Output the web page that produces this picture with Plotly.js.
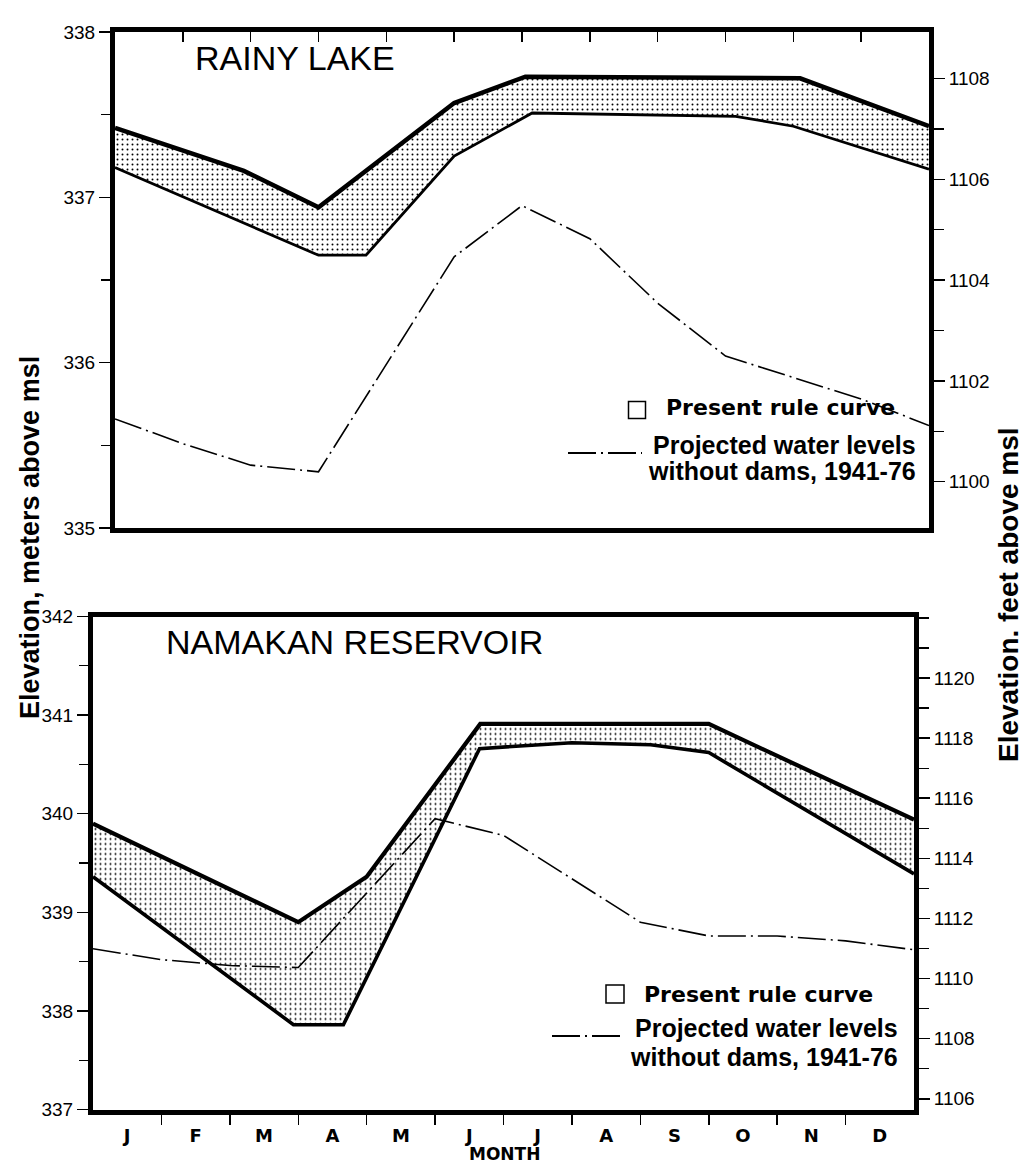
<!DOCTYPE html>
<html><head><meta charset="utf-8">
<script src="https://cdn.plot.ly/plotly-3.0.1.min.js"></script>
<style>html,body{margin:0;padding:0;background:#fff}#chart{width:1031px;height:1165px}</style>
</head><body><div id="chart"></div>
<script>
// ---------- data (month position 0..12 = Jan 1 .. Dec 31; elevations in meters) ----------
const monthLabels = ['J','F','M','A','M','J','J','A','S','O','N','D'];

const rainyUpperX = [0, 1.9, 3, 5, 6.05, 10.1, 12];
const rainyUpperY = [337.42, 337.16, 336.94, 337.57, 337.73, 337.72, 337.43];
const rainyLowerX = [0, 3, 3.7, 5, 6.15, 9.15, 10, 12];
const rainyLowerY = [337.18, 336.65, 336.65, 337.25, 337.51, 337.49, 337.43, 337.17];
const rainyProjX  = [0, 1, 2, 3, 5, 6, 7, 8, 9, 10, 11, 12];
const rainyProjY  = [335.66, 335.51, 335.38, 335.34, 336.64, 336.95, 336.75, 336.36, 336.04, 335.91, 335.78, 335.62];

const namUpperX = [0, 3, 4, 5.66, 9, 12];
const namUpperY = [339.90, 338.90, 339.36, 340.91, 340.91, 339.94];
const namLowerX = [0, 2.93, 3.66, 5.65, 7, 8.15, 9, 12];
const namLowerY = [339.36, 337.86, 337.86, 340.66, 340.72, 340.70, 340.62, 339.39];
const namProjX  = [0, 1, 2, 3, 5, 6, 8, 9, 10, 11, 12];
const namProjY  = [338.63, 338.52, 338.46, 338.44, 339.95, 339.78, 338.90, 338.76, 338.76, 338.71, 338.62];

const rainyMeterTicks = [335, 336, 337, 338];
const rainyFeetTicks  = [1100, 1102, 1104, 1106, 1108];
const namMeterTicks   = [337, 338, 339, 340, 341, 342];
const namFeetTicks    = [1106, 1108, 1110, 1112, 1114, 1116, 1118, 1120];

const titles = {rainy: 'RAINY LAKE', nam: 'NAMAKAN RESERVOIR'};
const legendBand = 'Present rule curve';
const legendProj1 = 'Projected water levels';
const legendProj2 = 'without dams, 1941-76';

// ---------- helpers ----------
const FT = 3.28084;
const W = 1031, H = 1165;
const px = x => x / W, py = y => 1 - y / H;
const range = (a, b, s) => { const r = []; for (let v = a; v <= b + 1e-9; v += s) r.push(+v.toFixed(4)); return r; };

const TOP = {x0: 115, x1: 929, y0: 32, y1: 528};
const BOT = {x0: 93, x1: 914, y0: 616.5, y1: 1109.5};

const BLACK = '#000';
const dashDot = '28px,5px,2px,5px';
const pattern = {shape: '.', fgcolor: '#000', bgcolor: '#fff', size: 5, solidity: 0.12, fillmode: 'replace'};

function bandTraces(lx, ly, ux, uy, xa, ya, lwLow, lwUp) {
  return [
    {x: lx, y: ly, xaxis: xa, yaxis: ya, type: 'scatter', mode: 'lines',
     line: {color: BLACK, width: lwLow}, hoverinfo: 'skip', showlegend: false},
    {x: ux, y: uy, xaxis: xa, yaxis: ya, type: 'scatter', mode: 'lines', fill: 'tonexty',
     fillcolor: 'rgba(0,0,0,0)', fillpattern: pattern,
     line: {color: BLACK, width: lwUp}, hoverinfo: 'skip', showlegend: false}
  ];
}
function projTrace(x, y, xa, ya) {
  return {x: x, y: y, xaxis: xa, yaxis: ya, type: 'scatter', mode: 'lines',
          line: {color: BLACK, width: 1.6, dash: dashDot}, hoverinfo: 'skip', showlegend: false};
}

const data = [
  ...bandTraces(rainyLowerX, rainyLowerY, rainyUpperX, rainyUpperY, 'x', 'y', 2.8, 4.5),
  projTrace(rainyProjX, rainyProjY, 'x', 'y'),
  ...bandTraces(namLowerX, namLowerY, namUpperX, namUpperY, 'x2', 'y2', 3.6, 4.2),
  projTrace(namProjX, namProjY, 'x2', 'y2'),
  {x: [], y: [], xaxis: 'x', yaxis: 'y3', type: 'scatter', showlegend: false},
  {x: [], y: [], xaxis: 'x2', yaxis: 'y4', type: 'scatter', showlegend: false}
];

const tickFont = {family: 'Liberation Sans, Arial, sans-serif', size: 19, color: BLACK};
const baseAxis = {showline: true, linewidth: 5, linecolor: BLACK, showgrid: false, zeroline: false,
                  tickcolor: BLACK, tickwidth: 1.5, fixedrange: true};

function meterAxis(dom, rng, ticks, anchor) {
  return Object.assign({}, baseAxis, {
    domain: dom, range: rng, anchor: anchor, side: 'left', mirror: true,
    tickmode: 'array', tickvals: ticks, ticks: 'outside', ticklen: 11, tickfont: tickFont,
    minor: {tickmode: 'array', tickvals: ticks.slice(0, -1).map(v => v + 0.5), ticks: 'outside',
            ticklen: 9, tickwidth: 1.3, tickcolor: BLACK}
  });
}
function feetAxis(over, rng, ticks, anchor) {
  const minors = [];
  for (let v = Math.ceil(rng[0]); v <= rng[1]; v++) if (ticks.indexOf(v) < 0) minors.push(v);
  return Object.assign({}, baseAxis, {
    overlaying: over, side: 'right', anchor: anchor, range: rng,
    tickmode: 'array', tickvals: ticks, ticks: 'outside', ticklen: 11, tickfont: tickFont,
    minor: {tickmode: 'array', tickvals: minors, ticks: 'outside', ticklen: 10, tickwidth: 1.3, tickcolor: BLACK}
  });
}

const monthMid = monthLabels.map((m, i) => i + 0.5);
const monthBounds = range(1, 11, 1);

const layout = {
  width: W, height: H, margin: {l: 0, r: 0, t: 0, b: 0},
  paper_bgcolor: '#fff', plot_bgcolor: '#fff', showlegend: false,
  xaxis: Object.assign({}, baseAxis, {
    domain: [px(TOP.x0), px(TOP.x1)], range: [0, 12], anchor: 'y', side: 'top', mirror: true,
    tickmode: 'array', tickvals: monthBounds, ticks: 'inside', ticklen: 10, showticklabels: false
  }),
  yaxis: meterAxis([py(TOP.y1), py(TOP.y0)], [335, 338], rainyMeterTicks, 'x'),
  yaxis3: feetAxis('y', [335 * FT, 338 * FT], rainyFeetTicks, 'x'),
  xaxis2: Object.assign({}, baseAxis, {
    domain: [px(BOT.x0), px(BOT.x1)], range: [0, 12], anchor: 'y2', side: 'bottom', mirror: true,
    tickmode: 'array', tickvals: monthMid, ticktext: monthLabels, ticks: '',
    ticklabelstandoff: 6,
    tickfont: {family: 'DejaVu Sans, sans-serif', size: 18, color: BLACK, weight: 'bold'},
    minor: {tickmode: 'array', tickvals: monthBounds, ticks: 'outside', ticklen: 10, tickwidth: 1.5, tickcolor: BLACK}
  }),
  yaxis2: meterAxis([py(BOT.y1), py(BOT.y0)], [337, 342], namMeterTicks, 'x2'),
  yaxis4: feetAxis('y2', [337 * FT, 342 * FT], namFeetTicks, 'x2'),
  annotations: [],
  shapes: []
};

function ann(text, x, y, opts) {
  return Object.assign({text: text, x: px(x), y: py(y), xref: 'paper', yref: 'paper',
    showarrow: false, xanchor: 'center', yanchor: 'middle'}, opts || {});
}
const boldSans = (size) => ({family: 'Liberation Sans, Arial, sans-serif', size: size, color: BLACK, weight: 'bold'});
const regSans = (size) => ({family: 'Liberation Sans, Arial, sans-serif', size: size, color: BLACK});
const wideBold = (size) => ({family: 'DejaVu Sans, sans-serif', size: size, color: BLACK, weight: 'bold'});

layout.annotations.push(
  ann(titles.rainy, 295, 58, {font: regSans(34)}),
  ann(titles.nam, 354, 642, {font: regSans(34)}),
  ann('Elevation, meters above msl', 30, 538, {textangle: -90, font: boldSans(27)}),
  ann('Elevation. feet above msl', 1008, 595, {textangle: -90, font: boldSans(28)}),
  ann('MONTH', 504, 1154, {font: wideBold(17)}),
  // legend, top panel
  ann(legendBand, 664, 407, {xanchor: 'left', font: wideBold(22)}),
  ann(legendProj1, 918, 445, {xanchor: 'right', font: boldSans(25)}),
  ann(legendProj2, 918, 471, {xanchor: 'right', font: boldSans(25)}),
  // legend, bottom panel
  ann(legendBand, 642, 994, {xanchor: 'left', font: wideBold(22)}),
  ann(legendProj1, 900, 1028, {xanchor: 'right', font: boldSans(25)}),
  ann(legendProj2, 900, 1057, {xanchor: 'right', font: boldSans(25)})
);

function legendBox(cx, cy, s) {
  return {type: 'rect', xref: 'paper', yref: 'paper', x0: px(cx - s / 2), x1: px(cx + s / 2),
          y0: py(cy + s / 2), y1: py(cy - s / 2), line: {color: BLACK, width: 1.5}, fillcolor: '#fff'};
}
function legendDash(xa, xb, y) {
  return {type: 'line', xref: 'paper', yref: 'paper', x0: px(xa), x1: px(xb), y0: py(y), y1: py(y),
          line: {color: BLACK, width: 1.8, dash: dashDot}};
}
layout.shapes.push(
  legendBox(637, 410, 17), legendDash(568, 642, 453),
  legendBox(615, 994, 18), legendDash(552, 621, 1036)
);

Plotly.newPlot('chart', data, layout, {staticPlot: true, displayModeBar: false});
</script>
</body></html>
